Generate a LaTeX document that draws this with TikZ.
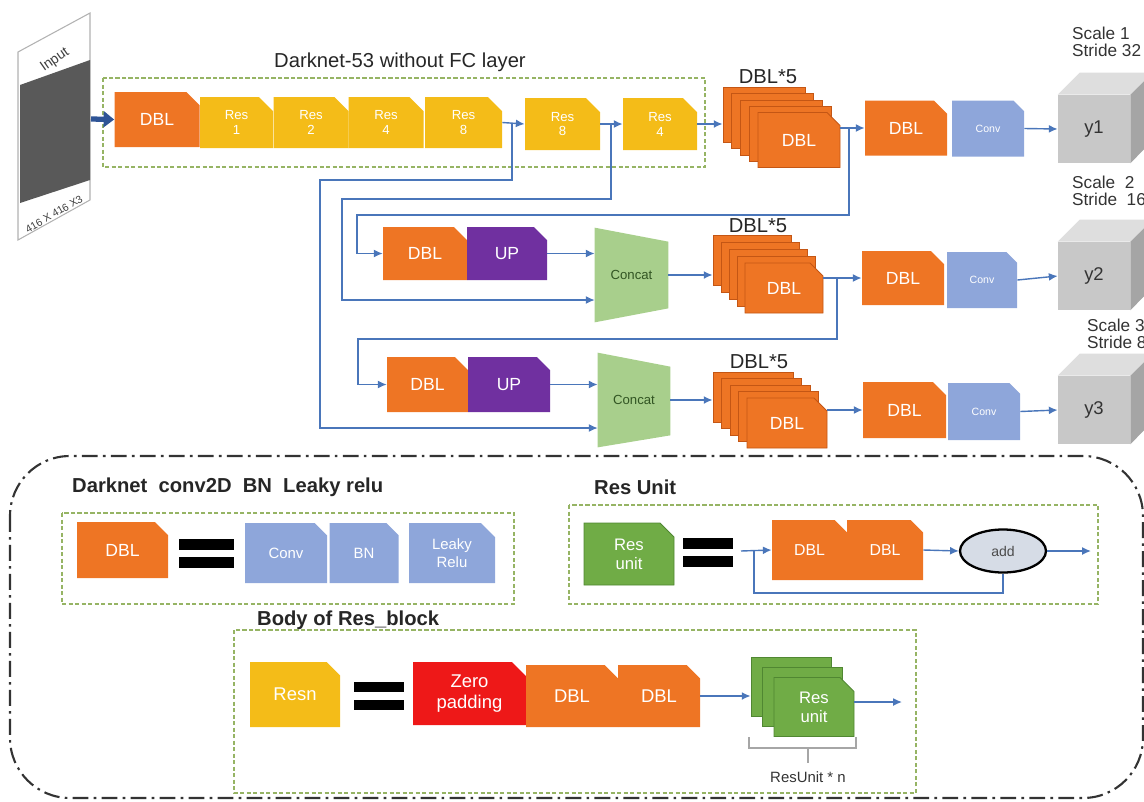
\documentclass[tikz,border=0pt]{standalone}
\usepackage{fontspec}
\setmainfont{Liberation Sans}
\usetikzlibrary{shapes.misc,shapes.geometric,arrows.meta,calc}
\newlength\pxu
\setlength\pxu{0.02cm}
\definecolor{dblorange}{RGB}{238,117,36}
\definecolor{dbldark}{RGB}{196,86,20}
\definecolor{resyellow}{RGB}{244,188,24}
\definecolor{convblue}{RGB}{142,166,218}
\definecolor{uppurple}{RGB}{112,48,160}
\definecolor{catgreen}{RGB}{168,207,140}
\definecolor{cattext}{RGB}{50,85,35}
\definecolor{unitgreen}{RGB}{112,172,70}
\definecolor{unitdark}{RGB}{80,135,50}
\definecolor{padred}{RGB}{238,24,24}
\definecolor{linkblue}{RGB}{74,118,186}
\definecolor{inarrow}{RGB}{46,84,150}
\definecolor{grpgreen}{RGB}{150,180,100}
\definecolor{cubefront}{RGB}{200,200,200}
\definecolor{cubetop}{RGB}{222,222,222}
\definecolor{cubeside}{RGB}{165,165,165}
\definecolor{addfill}{RGB}{214,220,230}

\begin{document}
\begin{tikzpicture}[x=0.02cm,y=-0.02cm]
\useasboundingbox (0,0) rectangle (1144,802);

\tikzset{blk/.style={chamfered rectangle, chamfered rectangle corners=north east,
  chamfered rectangle xsep=7\pxu, chamfered rectangle ysep=7\pxu,
  inner sep=0pt, text=white, align=center, font=\fontsize{10}{11}\selectfont}}
\tikzset{sz/.style 2 args={minimum width=#1\pxu, minimum height=#2\pxu}}
\tikzset{dbl/.style={blk, fill=dblorange}}
\tikzset{res/.style={blk, fill=resyellow, font=\fontsize{7.5}{8.5}\selectfont}}
\tikzset{conv/.style={blk, fill=convblue, font=\fontsize{6}{7}\selectfont}}
\tikzset{upblk/.style={blk, fill=uppurple}}
\tikzset{card/.style={dbl, draw=dbldark, line width=0.5pt}}
\tikzset{unit/.style={blk, fill=unitgreen, draw=unitdark, line width=0.5pt, font=\fontsize{9.5}{11}\selectfont}}
\tikzset{link/.style={draw=linkblue, line width=0.8pt, -{Latex[length=5pt,width=4.5pt]}}}
\tikzset{route/.style={draw=linkblue, line width=0.6pt, -{Latex[length=5pt,width=4.5pt]}}}
\tikzset{wire/.style={draw=linkblue, line width=0.6pt}}
\tikzset{grp/.style={draw=grpgreen, line width=0.7pt, dash pattern=on 2.5pt off 1.2pt}}
\tikzset{caption/.style={font=\fontsize{11.5}{13}\selectfont, text=black!85}}
\tikzset{hdr/.style={font=\bfseries\fontsize{11.5}{13}\selectfont, text=black!85, anchor=west}}
\tikzset{cube/.style={fill=cubefront, minimum width=72\pxu, minimum height=68\pxu, inner sep=0pt,
  font=\fontsize{10.5}{12}\selectfont, text=black!80}}
\tikzset{scl/.style={anchor=west, align=left, font=\fontsize{9.8}{10}\selectfont, text=black!80}}
\tikzset{bars/.style={fill=black}}

\filldraw[fill=white, draw=black!30, line width=0.6pt] (18,52) -- (90,13) -- (90,200) -- (18,240) -- cycle;
\fill[black!65] (20,85) -- (90,60) -- (90,180) -- (20,203) -- cycle;
\node[rotate=35, font=\fontsize{8}{9}\selectfont, text=black!75] (inTxt) at (55,60) {Input};
\node[rotate=30, font=\fontsize{6}{7}\selectfont, text=black!75] (inSize) at (54,214) {416 X 416 X3};
\coordinate (inp) at (91,119);

\node[caption] (dkTitle) at (400,62) {Darknet-53 without FC layer};
\draw[grp] (103,78) rectangle (705,167);
\node[dbl, sz={85}{55}] (dbl0) at (157,119.5) {DBL};
\node[res, sz={73}{51}] (res1) at (236.5,122.5) {Res\\1};
\node[res, sz={75}{51}] (res2) at (311,122.5) {Res\\2};
\node[res, sz={75}{51}] (res4) at (386,122.5) {Res\\4};
\node[res, sz={77}{51}] (res8) at (463.5,122.5) {Res\\8};
\node[res, sz={75}{52}] (res8b) at (562.5,124) {Res\\8};
\node[res, sz={74}{52}] (res4b) at (660,124) {Res\\4};
\draw[line width=3pt, draw=inarrow, -{Triangle[length=6pt,width=9pt]}] (inp) -- (dbl0.west);
\draw[link] (res8.east) -- (res8b.west);
\draw[link] (res8b.east) -- (res4b.west);
\coordinate (brA) at (512,124);
\coordinate (brB) at (611,124);

\foreach \k in {4,3,2,1}
  \node[card, sz={82}{55}] (s1b\k) at ($(799,140)-\k*(8.75,6.25)$) {};
\node[card, sz={82}{55}] (dblS1) at (799,140) {DBL};
\node[caption] (lbl1) at (768,77) {DBL*5};
\draw[link] (res4b.east) -- (res4b.east -| s1b4.west);
\node[dbl, sz={82}{55}] (dblY1) at (906,128) {DBL};
\node[conv, sz={72}{56}] (convY1) at (988,128.5) {Conv};
\draw[link] (dblS1.east |- dblY1.west) -- (dblY1.west);
\coordinate (brC) at (849,128);

\node[dbl, sz={84}{53}] (dblB) at (425,253.5) {DBL};
\node[upblk, sz={80}{53}] (upA) at (507,253.5) {UP};
\node[minimum width=73\pxu, minimum height=94\pxu, inner sep=0pt] (catA) at (631.5,275) {};
\fill[catgreen] (catA.north west) -- ([yshift=-14\pxu]catA.north east) -- ([yshift=14\pxu]catA.south east) -- (catA.south west) -- cycle;
\node[font=\fontsize{7.5}{9}\selectfont, text=cattext] (catAt) at (catA) {Concat};
\foreach \k in {4,3,2,1}
  \node[card, sz={78}{50}] (s2b\k) at ($(784,288)-\k*(8,7)$) {};
\node[card, sz={78}{50}] (dblS2) at (784,288) {DBL};
\node[caption] (lbl2) at (758,226) {DBL*5};
\node[dbl, sz={82}{54}] (dblY2) at (903,278) {DBL};
\node[conv, sz={70}{56}] (convY2) at (982,280) {Conv};
\draw[link] (upA.east) -- (upA.east -| catA.west);
\draw[link] (catA.east) -- (catA.east -| s2b4.west);
\draw[link] (dblS2.east |- dblY2.west) -- (dblY2.west);
\coordinate (brD) at (837,278);

\node[dbl, sz={81}{55}] (dblC) at (427.5,384.5) {DBL};
\node[upblk, sz={82}{55}] (upB) at (509,384.5) {UP};
\node[minimum width=72\pxu, minimum height=94\pxu, inner sep=0pt] (catB) at (634,400) {};
\fill[catgreen] (catB.north west) -- ([yshift=-14\pxu]catB.north east) -- ([yshift=12\pxu]catB.south east) -- (catB.south west) -- cycle;
\node[font=\fontsize{7.5}{9}\selectfont, text=cattext] (catBt) at (catB) {Concat};
\foreach \k in {4,3,2,1}
  \node[card, sz={80}{50}] (s3b\k) at ($(787,423)-\k*(8.5,6.5)$) {};
\node[card, sz={80}{50}] (dblS3) at (787,423) {DBL};
\node[caption] (lbl3) at (759,362) {DBL*5};
\node[dbl, sz={83}{56}] (dblY3) at (904.5,410) {DBL};
\node[conv, sz={72}{57}] (convY3) at (984,411.5) {Conv};
\draw[link] (upB.east) -- (upB.east -| catB.west);
\draw[link] (catB.east) -- (catB.east -| s3b4.west);
\draw[link] (dblS3.east |- dblY3.west) -- (dblY3.west);

\coordinate (tA) at (320,180);
\coordinate (tB) at (342,199);
\coordinate (tC) at (357,215);
\coordinate (tD) at (358,339);
\draw[route] (brA) |- (tA) |- ([yshift=-28\pxu]catB.west);
\draw[route] (brB) |- (tB) |- ([yshift=-25\pxu]catA.west);
\draw[route] (brC) |- (tC) |- (dblB.west);
\draw[route] (brD) |- (tD) |- (dblC.west);

\foreach \n/\yy in {1/129,2/276,3/410} {
  \node[cube] (y\n) at (1094,\yy) {y\n};
  \fill[cubetop] (y\n.north west) -- ++(22,-22) -- ++(72,0) -- (y\n.north east) -- cycle;
  \fill[cubeside] (y\n.north east) -- ++(22,-22) -- ++(0,68) -- (y\n.south east) -- cycle;
}
\draw[link] (convY1.east) -- (y1.west);
\draw[link] (convY2.east) -- (y2.west);
\draw[link] (convY3.east) -- (y3.west);
\node[scl] (sc1) at (1066,42) {Scale 1\\Stride 32};
\node[scl] (sc2) at (1066,191) {Scale~~2\\Stride~~16};
\node[scl] (sc3) at (1081,334) {Scale 3\\Stride 8};

\draw[draw=black!80, line width=1.2pt, rounded corners=60\pxu, dash pattern=on 9pt off 3pt on 1.5pt off 3pt] (10,456) rectangle (1143,798);

\node[hdr] (hd1) at (66,487) {Darknet~~conv2D~~BN~~Leaky relu};
\draw[grp] (62,513) rectangle (514,604);
\node[dbl, sz={91}{56}] (dblL) at (122.5,550) {DBL};
\foreach \yy in {539,557} \fill[bars] (179,\yy) rectangle ++(55,11);
\node[conv, sz={82}{60}, font=\fontsize{8.5}{10}\selectfont] (convL) at (286,553) {Conv};
\node[conv, sz={69}{60}, font=\fontsize{8.5}{10}\selectfont] (bnL) at (364,553) {BN};
\node[conv, sz={86}{60}, font=\fontsize{8.5}{10}\selectfont] (reluL) at (452,553) {Leaky\\Relu};

\node[hdr] (hd2) at (588,487) {Res Unit};
\draw[grp] (569,505) rectangle (1098,604);
\node[unit, sz={90}{62}] (resU) at (629,554) {Res\\unit};
\foreach \yy in {538,556} \fill[bars] (683,\yy) rectangle ++(50,11);
\node[dbl, sz={75}{60}, font=\fontsize{9}{10}\selectfont] (dblU1) at (809.5,550) {DBL};
\node[dbl, sz={76}{60}, font=\fontsize{9}{10}\selectfont] (dblU2) at (885,550) {DBL};
\node[ellipse, draw=black, line width=1.3pt, fill=addfill, minimum width=86\pxu, minimum height=43\pxu, inner sep=0pt,
  font=\fontsize{8}{9}\selectfont, text=black!70] (add) at (1003,551) {add};
\coordinate (inU) at (741,551);
\coordinate (brU) at (754,551);
\coordinate (outU) at (1091,551);
\draw[link] (inU) -- (dblU1.west);
\draw[wire] (brU) -- ++(0,42) -| (add.south);
\draw[link] (dblU2.east) -- (add.west);
\draw[link] (add.east) -- (outU);

\node[hdr] (hd3) at (251,620) {Body of Res\_block};
\draw[grp] (234,630) rectangle (916,793);
\node[res, sz={90}{65}, font=\fontsize{10.5}{12}\selectfont] (resn) at (295,694.5) {Resn};
\foreach \yy in {682,700} \fill[bars] (354,\yy) rectangle ++(50,10);
\node[blk, fill=padred, sz={113}{63}, font=\fontsize{10.5}{12}\selectfont] (zeroP) at (469.5,693.5) {Zero\\padding};
\node[dbl, sz={92}{62}, font=\fontsize{10.5}{12}\selectfont] (dblR1) at (572,696) {DBL};
\node[dbl, sz={82}{62}, font=\fontsize{10.5}{12}\selectfont] (dblR2) at (659,696) {DBL};
\foreach \k in {2,1}
  \node[unit, sz={80}{59}] (ruB\k) at ($(814,707)-\k*(11.5,10)$) {};
\node[unit, sz={80}{59}] (ruF) at (814,707) {Res\\unit};
\coordinate (outR) at (902,702);
\draw[link] (dblR2.east) -- (dblR2.east -| ruB2.west);
\draw[link] (ruF.east |- outR) -- (outR);
\draw[draw=black!35, line width=0.6pt] (749,737) -- (749,748) -- (856,748) -- (856,737) (808,748) -- (808,763);
\node[font=\fontsize{8.5}{10}\selectfont, text=black!80] (ruN) at (808,777) {ResUnit * n};
\end{tikzpicture}
\end{document}
